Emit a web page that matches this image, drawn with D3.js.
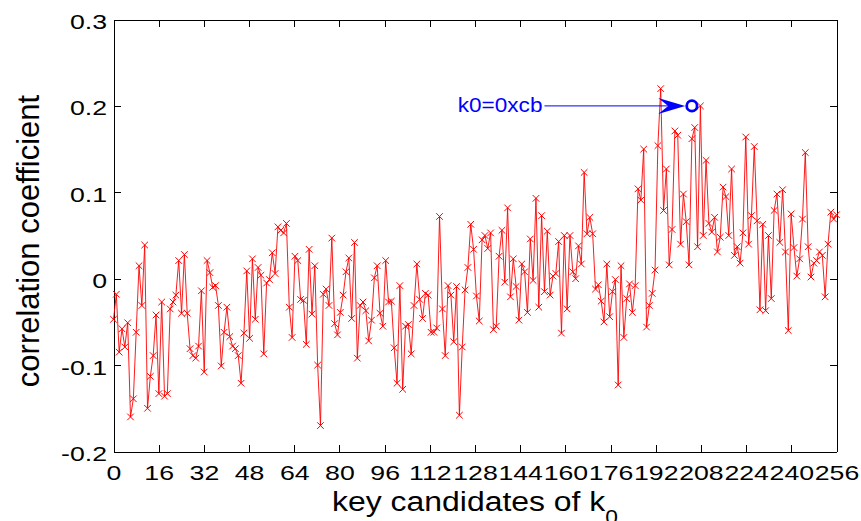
<!DOCTYPE html>
<html>
<head>
<meta charset="utf-8">
<script src="https://cdn.jsdelivr.net/npm/d3@7"></script>
<style>
  body { margin: 0; background: #fff; }
  svg { display: block; font-family: "Liberation Sans", Arial, sans-serif; }
</style>
</head>
<body>
<script>
const width = 861;
const height = 521;

// correlation coefficient of each key candidate 0..255
const corrValues = [
  -0.047, -0.018, -0.085, -0.058, -0.079, -0.051, -0.160, -0.139, -0.062, 0.015, -0.031, 0.039, -0.150, -0.113, -0.089, -0.042,
  -0.133, -0.027, -0.136, -0.133, -0.035, -0.027, -0.019, 0.021, -0.040, 0.028, -0.040, -0.081, -0.089, -0.092, -0.078, -0.014,
  -0.108, 0.021, 0.007, -0.010, -0.008, -0.031, -0.101, -0.062, -0.033, -0.067, -0.078, -0.081, -0.089, -0.121, -0.063, 0.009,
  -0.069, 0.023, -0.047, 0.013, 0.004, -0.087, -0.005, -0.001, 0.030, 0.006, 0.060, 0.056, 0.053, 0.064, -0.033, -0.068,
  0.026, 0.021, -0.024, -0.025, -0.076, 0.034, -0.041, 0.015, -0.100, -0.170, -0.018, -0.012, -0.031, 0.047, -0.052, -0.065,
  -0.039, -0.019, 0.008, 0.024, -0.046, 0.042, -0.092, -0.031, -0.027, -0.037, -0.072, -0.048, 0.001, 0.015, -0.040, -0.055,
  0.021, -0.027, -0.026, -0.080, -0.121, -0.008, -0.128, -0.055, -0.053, -0.087, -0.031, 0.017, -0.024, -0.046, -0.017, -0.019,
  -0.062, -0.062, -0.057, 0.072, -0.035, -0.089, -0.008, -0.019, -0.073, -0.009, -0.158, -0.079, -0.013, 0.013, 0.063, 0.034,
  -0.020, -0.049, 0.045, 0.050, 0.035, 0.053, -0.059, -0.055, 0.026, 0.056, -0.004, 0.082, -0.021, 0.023, -0.009, -0.048,
  0.017, 0.008, -0.039, 0.046, -0.002, 0.093, -0.033, 0.073, -0.015, 0.055, -0.019, 0.003, 0.006, 0.043, -0.063, 0.050,
  -0.035, 0.050, 0.008, 0.000, 0.038, 0.017, 0.123, 0.052, 0.071, 0.052, -0.012, -0.007, -0.026, -0.050, 0.017, -0.044,
  -0.015, -0.001, -0.123, 0.015, -0.068, -0.023, -0.006, -0.039, -0.008, 0.104, 0.091, 0.150, -0.056, -0.031, -0.017, 0.010,
  0.154, 0.220, 0.079, 0.127, 0.016, 0.057, 0.171, 0.166, 0.040, 0.098, 0.066, 0.016, 0.162, 0.175, 0.037, 0.200,
  0.050, 0.137, 0.064, 0.054, 0.071, 0.031, 0.048, 0.106, 0.095, 0.050, 0.127, 0.027, 0.037, 0.018, 0.053, 0.164,
  0.040, 0.073, 0.153, 0.067, -0.036, 0.063, -0.037, 0.050, -0.023, 0.079, 0.098, 0.042, 0.103, 0.031, -0.060, 0.075,
  0.036, 0.003, 0.023, 0.069, 0.146, 0.037, 0.002, 0.018, 0.021, 0.031, 0.027, -0.021, 0.040, 0.077, 0.069, 0.074
];

const xTicks = [0, 16, 32, 48, 64, 80, 96, 112, 128, 144, 160, 176, 192, 208, 224, 240, 256];
const yTicks = [-0.2, -0.1, 0, 0.1, 0.2, 0.3];

// annotation: guessed key marked with a circle
const guessKey = 0xcb;
const guessLabel = 'k0=0xcb';
const guessValue = 0.2;
const arrowTailKey = 152;

const boxLeft = 113.5, boxRight = 836.5, boxTop = 19.5, boxBottom = 451.5;
const tickLen = 7;

const svg = d3.select('body')
    .append('svg')
    .attr('width', width)
    .attr('height', height);

// data is spread over the whole box, the axis ticks run 0..256
const x = d3.scaleLinear().domain([0, corrValues.length - 1]).range([boxLeft, boxRight]);
const xAxisScale = d3.scaleLinear().domain([0, 256]).range([boxLeft, boxRight]);
const y = d3.scaleLinear().domain([-0.2, 0.3]).range([boxBottom, boxTop]);

function styleAxis(g){
    g.attr('color', '#000')
        .attr('font-size', 21)
        .attr('font-family', '"Liberation Sans", Arial, sans-serif');
    g.selectAll('path, line').attr('shape-rendering', 'crispEdges');
}

// bottom axis with labels
svg.append('g')
    .attr('transform', `translate(0,${boxBottom})`)
    .call(d3.axisBottom(xAxisScale).tickValues(xTicks).tickSize(-tickLen).tickSizeOuter(0).tickFormat(d3.format('d')))
    .call(styleAxis)
    .call(g => g.selectAll('.tick text')
        .attr('y', 0).attr('dy', 0)
        .attr('transform', 'translate(0,28) scale(1.27,1)'));

// top axis, ticks only
svg.append('g')
    .attr('transform', `translate(0,${boxTop})`)
    .call(d3.axisTop(xAxisScale).tickValues(xTicks).tickSize(-tickLen).tickSizeOuter(0).tickFormat(''))
    .call(styleAxis);

// left axis with labels
svg.append('g')
    .attr('transform', `translate(${boxLeft},0)`)
    .call(d3.axisLeft(y).tickValues(yTicks).tickSize(-tickLen).tickSizeOuter(0)
        .tickFormat(d => d === 0 ? '0' : d3.format('.1f')(d).replace('−', '-')))
    .call(styleAxis)
    .call(g => g.selectAll('.tick text')
        .attr('x', 0).attr('dy', 0)
        .attr('transform', 'translate(-6.5,9) scale(1.27,1)'));

// right axis, ticks only
svg.append('g')
    .attr('transform', `translate(${boxRight},0)`)
    .call(d3.axisRight(y).tickValues(yTicks).tickSize(-tickLen).tickSizeOuter(0).tickFormat(''))
    .call(styleAxis);

// red line with x markers
const line = d3.line()
    .x((d, i) => x(i))
    .y(d => y(d));

svg.append('path')
    .datum(corrValues)
    .attr('fill', 'none')
    .attr('stroke', '#ff0000')
    .attr('stroke-width', 0.9)
    .attr('d', line);

const m = 3.3;
svg.append('g')
    .selectAll('path')
    .data(corrValues)
    .enter()
    .append('path')
        .attr('transform', (d, i) => `translate(${x(i)},${y(d)})`)
        .attr('d', `M${-m},${-m}L${m},${m}M${-m},${m}L${m},${-m}`)
        .attr('stroke', '#ff0000')
        .attr('stroke-width', 1)
        .attr('fill', 'none');

// annotation
const cx = x(guessKey + 1);
const cy = y(guessValue);
const tipX = cx - 6.7;
const tailX = x(arrowTailKey);

svg.append('line')
    .attr('x1', tailX).attr('x2', tipX - 12)
    .attr('y1', cy).attr('y2', cy)
    .attr('stroke', '#0000ff')
    .attr('stroke-width', 1);

svg.append('path')
    .attr('d', `M${tipX},${cy}L${tipX - 27},${cy - 8}L${tipX - 17},${cy}L${tipX - 27},${cy + 8}Z`)
    .attr('fill', '#0000ff');

svg.append('circle')
    .attr('cx', cx).attr('cy', cy).attr('r', 5.2)
    .attr('fill', 'none')
    .attr('stroke', '#0000ff')
    .attr('stroke-width', 2.8);

svg.append('text')
    .attr('transform', `translate(${tailX - 2},${cy + 6}) scale(1.13,1)`)
    .attr('text-anchor', 'end')
    .attr('font-size', 20)
    .attr('fill', '#0000ff')
    .text(guessLabel);

// axis labels
svg.append('text')
    .attr('transform', `translate(39,241) rotate(-90)`)
    .attr('text-anchor', 'middle')
    .attr('font-size', 31)
    .attr('fill', '#000')
    .text('correlation coefficient');

const xl = svg.append('text')
    .attr('transform', `translate(${(boxLeft + boxRight) / 2},511) scale(1.14,1)`)
    .attr('text-anchor', 'middle')
    .attr('font-size', 28)
    .attr('fill', '#000');
xl.append('tspan').text('key candidates of k');
xl.append('tspan').attr('font-size', 20).attr('dy', 13).text('0');
</script>
</body>
</html>
